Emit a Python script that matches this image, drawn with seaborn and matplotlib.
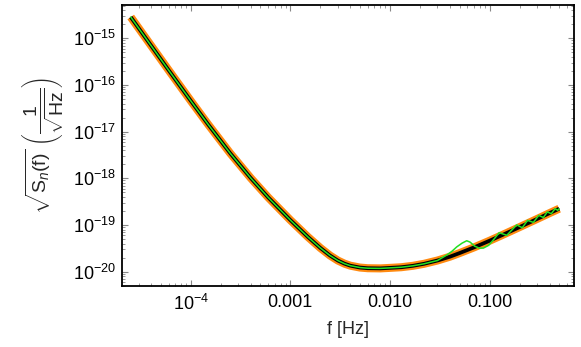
import matplotlib
matplotlib.use("Agg")
import matplotlib.pyplot as plt
import matplotlib.ticker as mticker
import seaborn as sns

# noise curve: frequency [Hz] and sqrt(Sn) [1/sqrt(Hz)]
freq = [2.5e-5, 4e-5, 6e-5, 1e-4, 1.5e-4, 2.5e-4, 4e-4, 6e-4, 1e-3,
        1.5e-3, 2e-3, 2.5e-3, 3e-3, 3.5e-3, 4e-3, 5e-3, 6e-3, 8e-3, 1e-2,
        1.3e-2, 1.7e-2, 2.2e-2, 3e-2, 4e-2, 5e-2, 7e-2, 0.1, 0.14, 0.2,
        0.28, 0.4, 0.5]
asd = [2.85e-15, 6.98e-16, 2.08e-16, 4.60e-17, 1.42e-17, 3.42e-18,
       1.02e-18, 3.90e-19, 1.28e-19, 5.58e-20, 3.24e-20, 2.23e-20,
       1.74e-20, 1.49e-20, 1.35e-20, 1.23e-20, 1.19e-20, 1.18e-20,
       1.21e-20, 1.25e-20, 1.34e-20, 1.48e-20, 1.74e-20, 2.10e-20,
       2.51e-20, 3.33e-20, 4.61e-20, 6.37e-20, 9.03e-20, 1.26e-19,
       1.80e-19, 2.24e-19]

# green curve: same at low f, wiggles above ~0.03 Hz
freq_green = freq[:23] + [0.0372, 0.042, 0.0469, 0.053, 0.059, 0.0637,
                          0.071, 0.079, 0.0867, 0.098, 0.109, 0.125, 0.149,
                          0.1875, 0.213, 0.241, 0.275, 0.312, 0.347, 0.380,
                          0.417, 0.455, 0.484, 0.5]
asd_green = asd[:23] + [2.28e-20, 2.75e-20, 3.41e-20, 4.10e-20, 4.61e-20,
                        4.32e-20, 3.53e-20, 3.20e-20, 3.21e-20, 3.68e-20,
                        4.78e-20, 6.86e-20, 6.03e-20, 1.007e-19, 8.76e-20,
                        1.26e-19, 1.14e-19, 1.61e-19, 1.45e-19, 1.91e-19,
                        1.75e-19, 2.24e-19, 2.07e-19, 2.24e-19]

xtick_pos = [1e-4, 1e-3, 1e-2, 1e-1]
xtick_labels = [r"$\mathdefault{10^{-4}}$", "0.001", "0.010", "0.100"]
ytick_pos = [1e-20, 1e-19, 1e-18, 1e-17, 1e-16, 1e-15]

sns.set_style("ticks")
plt.rcParams["font.family"] = ["Liberation Sans", "DejaVu Sans"]
plt.rcParams["mathtext.fontset"] = "custom"
plt.rcParams["mathtext.rm"] = "Liberation Sans"
plt.rcParams["mathtext.it"] = "Liberation Sans:italic"
plt.rcParams["mathtext.sf"] = "Liberation Sans"

fig = plt.figure(figsize=(5.81, 3.47), dpi=100)
ax = fig.add_axes([0.2095, 0.176, 0.7785, 0.8096])
ax.set(xscale="log", yscale="log")

sns.lineplot(x=freq, y=asd, color="#ff8a10", linewidth=5.8, ax=ax,
             solid_capstyle="butt")
sns.lineplot(x=freq, y=asd, color="black", linewidth=2.7, ax=ax,
             solid_capstyle="butt")
sns.lineplot(x=freq_green, y=asd_green, color="#22e022", linewidth=1.1,
             sort=False, ax=ax)

ax.set_xlim(2.03e-5, 0.705)
ax.set_ylim(4.97e-21, 5.16e-15)

ax.xaxis.set_major_locator(mticker.FixedLocator(xtick_pos))
ax.xaxis.set_major_formatter(mticker.FixedFormatter(xtick_labels))
ax.xaxis.set_minor_locator(mticker.LogLocator(base=10, subs=range(2, 10), numticks=20))
ax.xaxis.set_minor_formatter(mticker.NullFormatter())
ax.yaxis.set_major_locator(mticker.FixedLocator(ytick_pos))
ax.yaxis.set_major_formatter(mticker.LogFormatterSciNotation())
ax.yaxis.set_minor_locator(mticker.LogLocator(base=10, subs=range(2, 10), numticks=40))
ax.yaxis.set_minor_formatter(mticker.NullFormatter())

ax.tick_params(which="both", direction="in", top=True, right=True,
               color="#888888", labelcolor="black", labelsize=13)
ax.tick_params(which="major", length=4, width=0.8)
ax.tick_params(which="minor", length=2, width=0.6)
ax.tick_params(axis="x", which="major", pad=6)
ax.tick_params(axis="y", which="major", pad=4)

for s in ax.spines.values():
    s.set_linewidth(1.3)
    s.set_color("black")

ax.set_xlabel("f [Hz]", fontsize=13, labelpad=5)
ax.set_ylabel(r"$\sqrt{\mathrm{S}_n\mathrm{(f)}}\ \left(\dfrac{1}{\sqrt{\mathrm{Hz}}}\right)$",
              fontsize=14, labelpad=5)

fig.savefig("out.png", dpi=100)
